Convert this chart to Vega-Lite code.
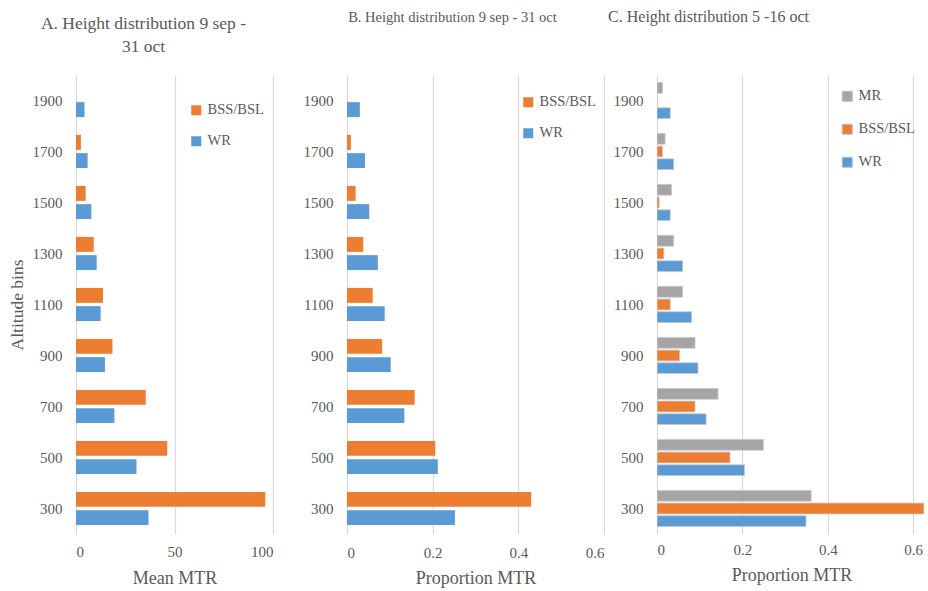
{
  "$schema": "https://vega.github.io/schema/vega-lite/v6.json",
  "background": "white",
  "padding": {"left": 8, "top": 9, "right": 2, "bottom": 5},
  "config": {
    "view": {"stroke": null},
    "style": {
      "guide-label": {"font": "Liberation Serif"},
      "guide-title": {"font": "Liberation Serif"},
      "group-title": {"font": "Liberation Serif"}
    },
    "axis": {
      "labelFont": "Liberation Serif",
      "titleFont": "Liberation Serif",
      "labelColor": "#595959",
      "titleColor": "#595959",
      "labelFontSize": 15,
      "titleFontSize": 18,
      "titleFontWeight": "normal",
      "ticks": false,
      "domain": false,
      "gridColor": "#D9D9D9",
      "gridWidth": 1.2
    },
    "legend": {
      "labelFont": "Liberation Serif",
      "labelColor": "#595959",
      "labelFontSize": 14.5,
      "symbolType": "square",
      "symbolSize": 100,
      "symbolStrokeWidth": 0,
      "padding": 0,
      "rowPadding": 16,
      "labelOffset": 4
    },
    "title": {
      "font": "Liberation Serif",
      "fontSize": 15,
      "fontWeight": "normal",
      "color": "#595959",
      "baseline": "bottom",
      "anchor": "middle",
      "frame": "group"
    }
  },
  "datasets": {
    "panelA": [
      {"alt": 300, "series": "BSS/BSL", "value": 96.1},
      {"alt": 300, "series": "WR", "value": 36.8},
      {"alt": 500, "series": "BSS/BSL", "value": 46.3},
      {"alt": 500, "series": "WR", "value": 30.7},
      {"alt": 700, "series": "BSS/BSL", "value": 35.4},
      {"alt": 700, "series": "WR", "value": 19.5},
      {"alt": 900, "series": "BSS/BSL", "value": 18.5},
      {"alt": 900, "series": "WR", "value": 14.7},
      {"alt": 1100, "series": "BSS/BSL", "value": 13.7},
      {"alt": 1100, "series": "WR", "value": 12.5},
      {"alt": 1300, "series": "BSS/BSL", "value": 9.0},
      {"alt": 1300, "series": "WR", "value": 10.5},
      {"alt": 1500, "series": "BSS/BSL", "value": 4.9},
      {"alt": 1500, "series": "WR", "value": 7.8},
      {"alt": 1700, "series": "BSS/BSL", "value": 2.5},
      {"alt": 1700, "series": "WR", "value": 5.9},
      {"alt": 1900, "series": "BSS/BSL", "value": 0},
      {"alt": 1900, "series": "WR", "value": 4.3}
    ],
    "panelB": [
      {"alt": 300, "series": "BSS/BSL", "value": 0.430},
      {"alt": 300, "series": "WR", "value": 0.252},
      {"alt": 500, "series": "BSS/BSL", "value": 0.206},
      {"alt": 500, "series": "WR", "value": 0.212},
      {"alt": 700, "series": "BSS/BSL", "value": 0.158},
      {"alt": 700, "series": "WR", "value": 0.134},
      {"alt": 900, "series": "BSS/BSL", "value": 0.082},
      {"alt": 900, "series": "WR", "value": 0.102},
      {"alt": 1100, "series": "BSS/BSL", "value": 0.060},
      {"alt": 1100, "series": "WR", "value": 0.088},
      {"alt": 1300, "series": "BSS/BSL", "value": 0.038},
      {"alt": 1300, "series": "WR", "value": 0.072},
      {"alt": 1500, "series": "BSS/BSL", "value": 0.020},
      {"alt": 1500, "series": "WR", "value": 0.052},
      {"alt": 1700, "series": "BSS/BSL", "value": 0.009},
      {"alt": 1700, "series": "WR", "value": 0.042},
      {"alt": 1900, "series": "BSS/BSL", "value": 0},
      {"alt": 1900, "series": "WR", "value": 0.030}
    ],
    "panelC": [
      {"alt": 300, "series": "MR", "value": 0.361},
      {"alt": 300, "series": "BSS/BSL", "value": 0.625},
      {"alt": 300, "series": "WR", "value": 0.349},
      {"alt": 500, "series": "MR", "value": 0.249},
      {"alt": 500, "series": "BSS/BSL", "value": 0.171},
      {"alt": 500, "series": "WR", "value": 0.205},
      {"alt": 700, "series": "MR", "value": 0.143},
      {"alt": 700, "series": "BSS/BSL", "value": 0.089},
      {"alt": 700, "series": "WR", "value": 0.115},
      {"alt": 900, "series": "MR", "value": 0.089},
      {"alt": 900, "series": "BSS/BSL", "value": 0.053},
      {"alt": 900, "series": "WR", "value": 0.096},
      {"alt": 1100, "series": "MR", "value": 0.060},
      {"alt": 1100, "series": "BSS/BSL", "value": 0.031},
      {"alt": 1100, "series": "WR", "value": 0.081},
      {"alt": 1300, "series": "MR", "value": 0.039},
      {"alt": 1300, "series": "BSS/BSL", "value": 0.016},
      {"alt": 1300, "series": "WR", "value": 0.060},
      {"alt": 1500, "series": "MR", "value": 0.034},
      {"alt": 1500, "series": "BSS/BSL", "value": 0.005},
      {"alt": 1500, "series": "WR", "value": 0.031},
      {"alt": 1700, "series": "MR", "value": 0.019},
      {"alt": 1700, "series": "BSS/BSL", "value": 0.013},
      {"alt": 1700, "series": "WR", "value": 0.039},
      {"alt": 1900, "series": "MR", "value": 0.013},
      {"alt": 1900, "series": "BSS/BSL", "value": 0},
      {"alt": 1900, "series": "WR", "value": 0.031}
    ]
  },
  "bounds": "flush",
  "spacing": 74,
  "resolve": {
    "scale": {"x": "independent", "y": "independent", "color": "independent", "yOffset": "independent"},
    "legend": {"color": "independent"},
    "axis": {"x": "independent", "y": "independent"}
  },
  "hconcat": [
    {
      "title": {"text": ["A. Height distribution 9 sep -", "31 oct"], "font": "Liberation Serif", "fontSize": 17.5, "lineHeight": 23, "offset": 20, "dx": -31},
      "width": 197,
      "height": 459,
      "data": {"name": "panelA"},
      "mark": {"type": "bar", "clip": true},
      "encoding": {
        "y": {
          "field": "alt", "type": "ordinal",
          "scale": {"domain": [1900, 1700, 1500, 1300, 1100, 900, 700, 500, 300], "paddingInner": 0.35, "paddingOuter": 0.175},
          "axis": {"title": "Altitude bins", "titleFont": "Liberation Serif", "titleFontSize": 17.5, "labelPadding": 14, "titlePadding": 6}
        },
        "yOffset": {
          "field": "series", "type": "nominal",
          "scale": {"domain": ["BSS/BSL", "WR"], "paddingInner": 0.18, "paddingOuter": 0}
        },
        "x": {
          "field": "value", "type": "quantitative",
          "scale": {"domain": [0, 100], "nice": false},
          "axis": {"title": "Mean MTR", "titleFont": "Liberation Serif", "values": [0, 50, 100], "format": "d", "labelPadding": 10, "titlePadding": 10}
        },
        "color": {
          "field": "series", "type": "nominal",
          "scale": {"domain": ["BSS/BSL", "WR"], "range": ["#ED7D31", "#5B9BD5"]},
          "legend": {"title": null, "labelFont": "Liberation Serif", "orient": "none", "legendX": 113, "legendY": 28}
        }
      }
    },
    {
      "bounds": "flush",
      "spacing": 53,
      "resolve": {
        "scale": {"x": "independent", "y": "independent", "color": "independent", "yOffset": "independent"},
        "legend": {"color": "independent"},
        "axis": {"x": "independent", "y": "independent"}
      },
      "hconcat": [
        {
          "title": {"text": "B. Height distribution 9 sep - 31 oct", "font": "Liberation Serif", "fontSize": 14.5, "offset": 50, "dx": -23},
          "width": 257,
          "height": 459,
          "data": {"name": "panelB"},
          "mark": {"type": "bar", "clip": true},
          "encoding": {
            "y": {
              "field": "alt", "type": "ordinal",
              "scale": {"domain": [1900, 1700, 1500, 1300, 1100, 900, 700, 500, 300], "paddingInner": 0.35, "paddingOuter": 0.175},
              "axis": {"title": null, "labelPadding": 14}
            },
            "yOffset": {
              "field": "series", "type": "nominal",
              "scale": {"domain": ["BSS/BSL", "WR"], "paddingInner": 0.18, "paddingOuter": 0}
            },
            "x": {
              "field": "value", "type": "quantitative",
              "scale": {"domain": [0, 0.6], "nice": false},
              "axis": {"title": "Proportion MTR", "titleFont": "Liberation Serif", "values": [0, 0.2, 0.4, 0.6], "format": "~g", "labelPadding": 11, "titlePadding": 9}
            },
            "color": {
              "field": "series", "type": "nominal",
              "scale": {"domain": ["BSS/BSL", "WR"], "range": ["#ED7D31", "#5B9BD5"]},
              "legend": {"title": null, "labelFont": "Liberation Serif", "orient": "none", "legendX": 174, "legendY": 20}
            }
          }
        },
        {
          "title": {"text": "C. Height distribution 5 -16 oct", "font": "Liberation Serif", "fontSize": 16, "offset": 50, "dx": -83},
          "width": 269,
          "height": 459,
          "data": {"name": "panelC"},
          "mark": {"type": "bar", "clip": true, "stroke": "#C8C8C8", "strokeWidth": 0.8},
          "encoding": {
            "y": {
              "field": "alt", "type": "ordinal",
              "scale": {"domain": [1900, 1700, 1500, 1300, 1100, 900, 700, 500, 300], "paddingInner": 0.29, "paddingOuter": 0.145},
              "axis": {"title": null, "labelPadding": 14}
            },
            "yOffset": {
              "field": "series", "type": "nominal",
              "scale": {"domain": ["MR", "BSS/BSL", "WR"], "paddingInner": 0.15, "paddingOuter": 0}
            },
            "x": {
              "field": "value", "type": "quantitative",
              "scale": {"domain": [0, 0.63], "nice": false},
              "axis": {"title": "Proportion MTR", "titleFont": "Liberation Serif", "values": [0, 0.2, 0.4, 0.6], "format": "~g", "labelPadding": 8, "titlePadding": 9}
            },
            "color": {
              "field": "series", "type": "nominal",
              "scale": {"domain": ["MR", "BSS/BSL", "WR"], "range": ["#A5A5A5", "#ED7D31", "#5B9BD5"]},
              "legend": {"title": null, "labelFont": "Liberation Serif", "orient": "none", "legendX": 183, "legendY": 14, "rowPadding": 17, "symbolStrokeColor": "#BDBDBD", "symbolStrokeWidth": 1}
            }
          }
        }
      ]
    }
  ]
}
